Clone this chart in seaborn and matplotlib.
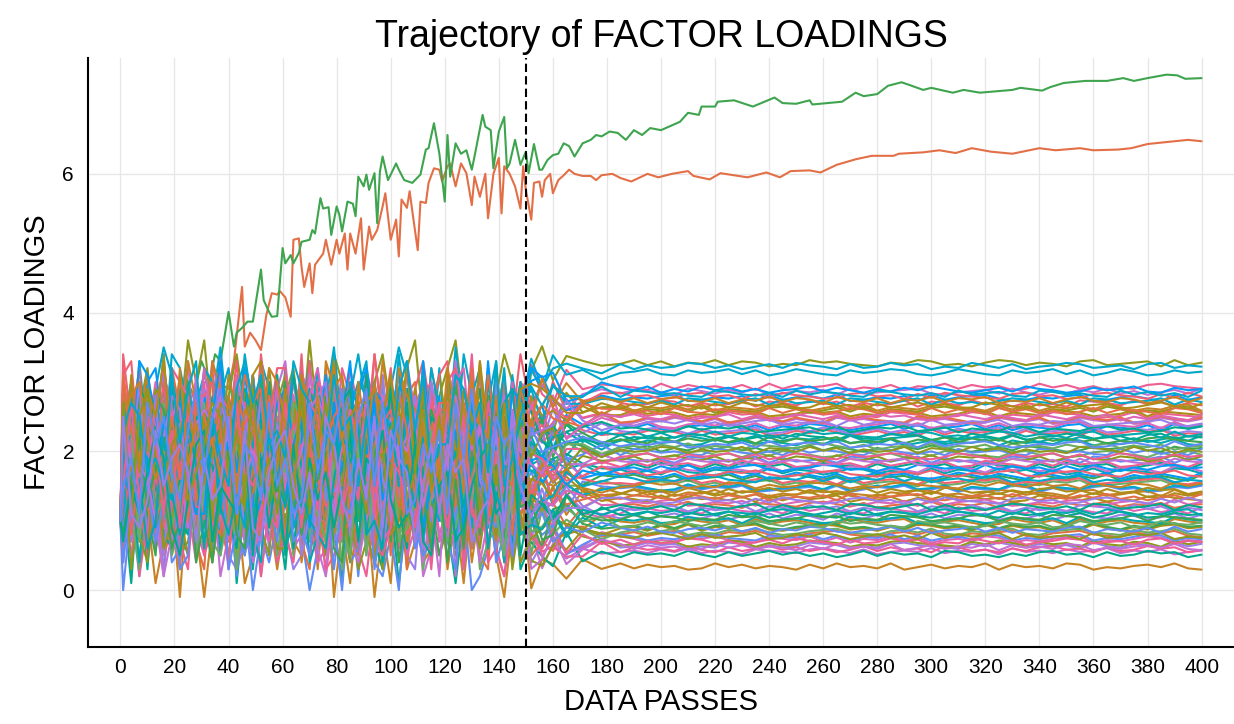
import matplotlib
matplotlib.use("Agg")
import matplotlib.pyplot as plt
import pandas as pd
import seaborn as sns

# ---------------- text ----------------
title = "Trajectory of FACTOR LOADINGS"
x_label = "DATA PASSES"
y_label = "FACTOR LOADINGS"
switch_pass = 150
x_ticks = list(range(0, 401, 20))
y_ticks = [0, 2, 4, 6]
start_value = 1.0

# ---------------- two dominant loadings ----------------
green_passes = [0, 1, 3, 6, 9, 12, 15, 18, 21, 24, 27, 30, 33, 35, 37, 40, 42, 43, 45, 47, 49, 52, 53, 55, 56, 58,
                60, 61, 63, 64, 66, 67, 70, 71, 72, 74, 75, 77, 78, 80, 81, 82, 84, 86, 87, 88, 90, 91, 92, 94, 95,
                96, 97, 99, 100, 102, 103, 105, 108, 111, 113, 114, 116, 118, 120, 121, 122, 124, 126, 128, 130,
                131, 134, 135, 137, 138, 140, 142, 143, 144, 146, 148, 150, 151, 153, 155, 156, 158, 160, 162, 164,
                166, 168, 171, 174, 176, 178, 181, 184, 187, 190, 193, 196, 200, 207, 210, 214, 215, 220, 221, 227,
                234, 242, 245, 250, 255, 256, 267, 272, 275, 280, 284, 289, 292, 297, 300, 308, 312, 318, 330, 333,
                341, 344, 349, 357, 365, 371, 375, 380, 387, 391, 394, 400]
green_values = [1.0, 2.2, 1.8, 2.5, 2.1, 2.7, 2.3, 2.9, 2.6, 3.1, 2.8, 3.3, 3.0, 3.4, 3.3, 4.01, 3.51, 3.71, 3.78,
                3.87, 3.87, 4.62, 4.18, 4.01, 3.94, 3.95, 4.93, 4.71, 4.83, 4.71, 4.86, 5.02, 5.05, 5.19, 5.14,
                5.65, 5.5, 5.52, 5.12, 5.53, 5.41, 5.17, 5.6, 5.57, 5.39, 5.96, 5.82, 5.99, 5.77, 6.01, 5.29, 6.03,
                6.25, 5.91, 5.99, 6.15, 6.06, 5.91, 5.87, 5.99, 6.35, 6.37, 6.73, 6.29, 5.6, 6.56, 5.96, 6.44, 6.29,
                6.34, 6.06, 6.25, 6.85, 6.68, 6.63, 6.08, 6.61, 6.82, 6.08, 6.15, 6.49, 6.13, 6.32, 6.01, 6.43,
                6.06, 6.06, 6.2, 6.27, 6.29, 6.44, 6.4, 6.25, 6.44, 6.49, 6.56, 6.54, 6.61, 6.59, 6.49, 6.63, 6.56,
                6.66, 6.63, 6.75, 6.88, 6.85, 6.97, 6.97, 7.04, 7.06, 6.97, 7.10, 7.02, 7.01, 7.06, 7.0, 7.04, 7.17,
                7.12, 7.15, 7.27, 7.32, 7.28, 7.21, 7.24, 7.17, 7.21, 7.17, 7.21, 7.24, 7.20, 7.25, 7.31, 7.34, 7.34,
                7.38, 7.34, 7.38, 7.43, 7.42, 7.37, 7.38]

orange_passes = [0, 1, 4, 8, 12, 16, 20, 24, 28, 32, 36, 40, 42, 45, 46, 48, 50, 52, 54, 56, 58, 59, 61, 63, 64, 66,
                 67, 68, 70, 71, 72, 75, 76, 78, 80, 81, 83, 84, 85, 87, 89, 90, 92, 93, 95, 97, 98, 100, 102, 103,
                 104, 106, 107, 108, 110, 111, 113, 114, 116, 118, 119, 121, 122, 124, 126, 128, 130, 131, 133, 135,
                 136, 138, 140, 141, 142, 144, 146, 148, 149, 150, 152, 153, 155, 156, 157, 159, 160, 162, 164, 166,
                 168, 171, 174, 176, 178, 182, 185, 189, 195, 199, 204, 210, 212, 218, 222, 227, 232, 239, 244, 248,
                 255, 259, 265, 272, 278, 286, 288, 297, 303, 309, 315, 322, 330, 340, 346, 355, 360, 369, 374, 380,
                 385, 395, 400]
orange_values = [1.0, 1.6, 2.2, 1.7, 2.4, 2.0, 2.6, 2.3, 2.8, 2.5, 3.0, 2.9, 3.3, 4.37, 3.51, 3.71, 3.6, 3.46, 3.97,
                 4.28, 4.26, 4.31, 4.22, 3.94, 5.05, 5.07, 4.66, 4.37, 4.71, 4.28, 4.69, 4.85, 5.05, 4.69, 5.05,
                 4.85, 5.14, 4.62, 5.14, 4.85, 5.36, 4.62, 5.24, 5.05, 5.19, 5.53, 5.72, 5.05, 5.34, 4.81, 5.63,
                 5.51, 5.75, 5.46, 4.9, 5.6, 5.58, 5.87, 6.08, 6.06, 5.89, 6.11, 6.15, 5.82, 6.15, 6.01, 5.55, 5.96,
                 5.67, 6.0, 5.36, 6.0, 6.23, 5.43, 6.11, 6.0, 5.82, 5.5, 6.11, 5.77, 5.34, 5.87, 5.89, 5.67, 5.91,
                 6.0, 5.72, 5.91, 5.98, 6.06, 6.0, 5.97, 5.97, 5.91, 5.98, 6.0, 5.94, 5.89, 6.0, 5.95, 6.0, 6.04,
                 5.97, 5.92, 6.01, 5.98, 5.95, 6.02, 5.95, 6.04, 6.05, 6.02, 6.13, 6.21, 6.26, 6.26, 6.29, 6.31,
                 6.34, 6.30, 6.37, 6.32, 6.29, 6.37, 6.34, 6.37, 6.34, 6.35, 6.37, 6.43, 6.45, 6.49, 6.47]

# ---------------- the bundle of remaining loadings ----------------
# noisy phase at passes 1,4,...,148 ; settling at 152..178 ; settled at 185,190,...,400
bundle_pre_passes = list(range(1, 150, 3))
bundle_settle_passes = [152, 156, 160, 165, 171, 178]
bundle_post_passes = list(range(185, 401, 5))

# centre of each loading during the noisy phase, and its settled level afterwards
bundle_pre_level = [1.1, 1.6, 2.0, 2.5, 0.8, 1.0, 2.7, 2.5, 1.2, 0.9, 2.1, 1.3, 1.7, 2.1, 1.2, 1.8, 2.2, 1.4,
                    1.7, 2.3, 1.3, 1.9, 2.2, 2.6, 1.5, 1.8, 2.4, 1.4, 2.0, 2.3, 1.6, 1.9, 2.4, 1.5, 2.1, 1.1,
                    1.7, 2.0, 1.2, 1.6, 2.2, 1.3, 1.8, 2.1, 1.2, 1.7, 2.3, 1.4, 1.9, 2.2, 1.3, 1.8, 2.4, 1.5,
                    2.0, 2.3, 1.4, 1.9, 2.5, 1.6, 2.0, 2.4, 1.5, 2.1, 1.1, 1.7, 2.0, 1.2, 1.6, 2.2, 1.3, 1.8,
                    2.1, 1.2, 1.7, 2.3, 1.4, 1.8, 2.2, 1.3, 1.9, 2.4, 1.5, 1.8, 2.3, 1.4, 2.0, 2.4, 1.6, 2.0]
bundle_post_level = [0.56, 1.37, 2.18, 2.93, 0.34, 0.52, 3.27, 3.23, 0.64, 1.46, 2.27, 0.73, 1.54, 2.35, 0.81,
                     1.62, 2.44, 0.90, 1.71, 2.52, 0.98, 1.79, 2.60, 3.14, 1.06, 1.88, 2.69, 1.15, 1.96, 2.77,
                     1.23, 2.04, 2.86, 1.32, 2.13, 0.59, 1.40, 2.21, 0.67, 1.48, 2.30, 0.76, 1.57, 2.38, 0.84,
                     1.65, 2.46, 0.92, 1.74, 2.55, 1.01, 1.82, 2.63, 1.09, 1.90, 2.72, 1.18, 1.99, 2.80, 1.26,
                     2.07, 2.89, 1.34, 2.16, 0.62, 1.43, 2.24, 0.70, 1.51, 2.32, 0.78, 1.60, 2.41, 0.87, 1.68,
                     2.49, 0.95, 1.76, 2.58, 1.04, 1.85, 2.66, 1.12, 1.93, 2.74, 1.20, 2.02, 2.83, 1.29, 2.10]

# typed wiggles, one digit per point (0..9, 4.5 = centre)
pre_step = 0.2
settle_step = 0.07
post_step = 0.018
bundle_pre_digits = [
    "7391508264 8271936055 2849173062 4819357026 1849372051",
    "2068415973 5930472816 9157302648 3605918247 6283049157",
    "5402867319 1748259036 4093716582 8526041397 0371864925",
    "8175390642 6392085174 7210649385 1947362850 5829103746",
    "3926147085 0584713962 6438290517 7051824639 2617493058",
    "6081953427 4729061835 1862574093 9316058247 4058362791",
    "1547280396 9305846172 5729308614 2684179305 7943215860",
    "4730619852 2168395740 8350147269 5072946318 1296804375",
    "9263705148 7541029386 3017862594 6439510782 3805279614",
    "0618492357 3897160425 6940385071 8214073596 5460138927",
    "5384021679 1265937804 4701598263 3958726140 9174602358",
    "2956138740 6048251397 9563014728 1705384962 4381975026",
    "7120594863 8439607512 2836750194 5627013849 6052841739",
    "3849276015 5712384069 7184629305 9046258173 2719530846",
    "6475813092 0983562741 3520978416 4381907625 8647109253",
    "1093625478 7356018294 8067341529 2739465801 5028397164",
    "8562047139 2174930856 5498120673 7610582934 3946715082",
    "4217958306 9620473185 1375896240 6085341927 7503628419",
    "9738160524 3451729068 6209437815 1852706349 0471985263",
    "2604739851 8093615427 4851603972 9367120485 6129054738",
    "5931482067 1628047359 7904352618 3579268014 8360471592",
    "0475216398 6847392015 2136895740 4901763825 1758392046",
    "7369045182 4015286937 9682417053 6248035179 5034816927",
    "3182697405 7593041862 0748159326 8126973504 2946058173",
    "6847032951 2361879504 5017624839 1573498062 7281540396",
    "1506384927 9832605174 3465091287 7390815426 4615973082",
    "8923571046 5174928360 6839205714 0462137958 9073628415",
    "4051869372 0695317248 1287463905 5843602791 3592714068",
    "9640218735 3728054916 8514739620 2709485163 6138027954",
    "2318947560 7406192835 4093286517 9681534027 0765391824",
    "5796302184 1839475062 7652018439 3027946815 8409263571",
    "0462759813 6275830419 2941637058 8536107294 1827406953",
    "7235086491 4960328157 9308541726 1482795360 5943817026",
    "3981427056 8052719643 0726953814 6349028175 2061579438",
    "6157093824 2617845390 5483162097 7915360482 4728035169",
    "1804635297 9348276051 3169705842 0538247916 8395712046",
    "8426917530 5093164827 6875429013 4176853209 1504689372",
    "4670258913 1785903462 2031784695 9862510437 6247938051",
    "9057843126 6429057318 8597316240 2605489731 3819265704",
    "2743160598 3016482975 4260859137 7341926058 9062417385",
    "5318792604 8672539140 1943206785 5093617482 0736952841",
    "0592437861 4137860295 7628594301 8257043916 5481360279",
    "7836015249 0854291736 3405172968 1629805374 2193748560",
    "3165928470 7291546083 9814630527 6904372185 7620581394",
    "6409571382 2548073961 5172948036 3716259048 4957023168",
    "1984263057 9760312845 0539781624 8482605731 1308497526",
    "8250739614 5926841073 6281093457 0135478296 6749135802",
    "4593086127 1385207946 2746315809 5871923640 3025864179",
    "9126457830 6704938512 8053627194 4298051673 7581206934",
    "2871304965 3049625718 4697851320 9563148207 0836759241",
    "5607821349 8513762094 1380246975 2604937518 4192835067",
    "0349678512 4286193750 7915380426 6847215093 8573046129",
    "7058143296 0971548362 3526097841 1395862740 5260918473",
    "3794560218 7632081459 9058724613 8726309154 1647293805",
    "6213985740 2450379816 5847136092 4051678923 9308572461",
    "1562739084 9817246503 0274915368 7832450196 2735084916",
    "8935206471 5368910427 6703581249 0569123847 6481937025",
    "4087613925 1094875362 2461038795 5187964302 3056249718",
    "9481072536 6725031948 8190764253 3948215670 7812506349",
    "2350948617 3871496205 4539217086 9201586734 0697351842",
    "5726381094 8036257149 1872653940 6453092718 4168729503",
    "0198527463 4592718036 7306482591 2765841930 8524093176",
    "7643190825 0217384695 3648905127 1087356249 5370862419",
    "3015874692 7468053921 9015387264 8319620475 2941587036",
    "6852403179 2703691584 5467209831 4926738150 9085143267",
    "1279658340 9185420736 0821954673 7540162983 6753928140",
    "8436021957 5621897403 6159738042 0681497325 1427605893",
    "4961735208 1350962487 2798401356 5213849607 3809274516",
    "9504286173 6984175320 8346027915 3872506194 7561830942",
    "2187549036 3527408619 4950163782 9438170265 0236495718",
    "5620913748 8063549271 1683275409 2059634817 4973152680",
    "0873462591 4718206935 7029546183 6597382041 8340671259",
    "7391805624 0245973816 3574891260 1720458396 5618209347",
    "3746258019 7890314652 9231760548 8046973125 2085943716",
    "6058137492 2361789054 5806423197 4389501672 9472016385",
    "1402695873 9576043128 0417958362 7153296840 6893527104",
    "8917342560 5103862947 6954317208 0678124593 1254873069",
    "4265087931 1839470265 2680539471 5924716038 3709168452",
    "9538416207 6420597813 8193046725 3461850927 7046395218",
    "2694751380 3058216749 4725681093 9837042516 0618257394",
    "5143069827 8796135402 1358970624 2390658147 4962731085",
    "0817593462 4265708931 7081249356 6758391420 8253940617",
    "7350284196 0931472685 3642105879 1209563874 5736804291",
    "3928617054 7682943510 9509836142 8175420369 2481096753",
    "6784130925 2417065398 5263719408 4831976502 9608547132",
    "1536972048 9154380726 0837462591 7694238105 6125783490",
    "8079425613 5873619240 6190584273 0546813927 1397052648",
    "4651208379 1520796834 2976138450 5062794813 3874619025",
    "9213846750 6349281057 8425097316 3918650472 7560238194",
    "2408573169 3796054182 4018365927 9284701536 0849317562",
]
bundle_settle_digits = [
    "816354", "294746", "507153", "931845", "065264", "742935", "381654", "604543", "159346", "827065",
    "463854", "915236", "278445", "590753", "031664", "758135", "324956", "682043", "147564", "803645",
    "491236", "956754", "230845", "518453", "072965", "764534", "309356", "651843", "126754", "894235",
    "435046", "980653", "263145", "527964", "018453", "745336", "376054", "692743", "104865", "861534",
    "429346", "957135", "280654", "513246", "094753", "736845", "351436", "608954", "172635", "845364",
    "486153", "923045", "259763", "574636", "031254", "708445", "365953", "619346", "182035", "854764",
    "410553", "978236", "246345", "591864", "027146", "763953", "304535", "637264", "195843", "820456",
    "468765", "901634", "234953", "582546", "056346", "719035", "347856", "675143", "163265", "801954",
    "427446", "986335", "215054", "540663", "093845", "752734", "389153", "626446", "170335", "834565",
]
post_wiggles = [
    "453647354265 436753624547 354627453645 735462453764",
    "647253746352 457364253647 532463754236 457326453742",
    "365427536472 354627345673 245637425364 735246374526",
    "542736453627 364572436254 736452374635 243675436257",
    "736452374635 426374537246 354726453762 435647325463",
    "264537426357 463524736452 763425367452 634756243576",
    "473625473652 437564325476 342576354267 345627354672",
    "625347635246 375426347562 437536245763 452673546234",
    "347562437625 347652436754 326475364527 436527463524",
    "564237465723 456372465734 625437625436 745236574362",
    "436752634572 364752463527 364572634527 346572436572",
    "752436574326 547362547362 453762435672 435762436574",
    "325647352467 354627356427 346572436572 345673245637",
    "647325647362 547632457362 457362543672 543627354762",
    "463572436574 235674325647 325467325674 326457324657",
    "574362457362 475362475632 475364275364 725364275364",
    "236475362475 364275643275 642375462375 462375463275",
    "452637254673 245763425376 452736452637 425367452736",
    "635274365427 365247635427 365274635247 365427635274",
    "374652437562 347562437652 347625437652 347265437625",
    "546237546273 564237546723 564237546273 564327546237",
    "263745263754 623745263574 623754263745 623574263754",
    "725463725436 752463725436 754263725463 752436725463",
    "457326457362 475326457632 475326457362 475236457326",
    "362574362547 365274362547 365724362574 365247362574",
    "643527643572 634527643572 634257643527 634572643527",
    "534762534726 537462534726 537462534276 537462534726",
    "276453276435 274653276435 274563276453 274635276453",
    "745236745263 754236745263 754326745236 754263745236",
    "354672354627 356472354627 356742354672 356427354672",
]

# ---------------- styles ----------------
julia_palette = ["#009AF9", "#E36F47", "#3EA44E", "#C371D2", "#AC8D18", "#00A9AD", "#ED5E93", "#C68225",
                 "#00A98D", "#8E971E", "#00A8CC", "#9B7FE9", "#618CF6", "#F06073", "#DD65B7", "#6BAD65"]
top_colors = {"orange": "#E36F47", "green": "#3EA44E"}


def decode(digits, level, step):
    return [level + (int(c) - 4.5) * step for c in digits.replace(" ", "")]


# ---------------- long-form table ----------------
records = []
for p, v in zip(orange_passes, orange_values):
    records.append(("orange", p, v))
for p, v in zip(green_passes, green_values):
    records.append(("green", p, v))
names = []
palette = dict(top_colors)
for i in range(len(bundle_post_level)):
    name = f"b{i:02d}"
    names.append(name)
    palette[name] = julia_palette[(i + 3) % len(julia_palette)]
    records.append((name, 0, start_value))
    segments = [
        (bundle_pre_passes, decode(bundle_pre_digits[i], bundle_pre_level[i], pre_step)),
        (bundle_settle_passes, decode(bundle_settle_digits[i], bundle_post_level[i], settle_step)),
        (bundle_post_passes, decode(post_wiggles[i % len(post_wiggles)], bundle_post_level[i], post_step)),
    ]
    for passes, values in segments:
        for p, v in zip(passes, values):
            records.append((name, p, v))
df = pd.DataFrame(records, columns=["series", "pass", "loading"])
hue_order = ["orange", "green"] + names

# ---------------- plot ----------------
sns.set_theme(style="white")
plt.rcParams["font.family"] = ["Liberation Sans", "DejaVu Sans"]

fig = plt.figure(figsize=(12.34, 7.24), dpi=100)
ax = fig.add_axes([88 / 1234, 1 - 647 / 724, (1234 - 88) / 1234, (647 - 58) / 724])

sns.lineplot(data=df, x="pass", y="loading", hue="series", hue_order=hue_order,
             palette=palette, estimator=None, sort=False, legend=False,
             linewidth=1.5, ax=ax)
ax.axvline(switch_pass, color="black", linestyle=(0, (4, 2)), linewidth=1.5, zorder=5)

ax.set_xlim(-12, 412)
ax.set_ylim(-0.82, 7.67)
ax.set_xticks(x_ticks)
ax.set_yticks(y_ticks)
ax.grid(True, color="#e6e6e6", linewidth=0.9)
ax.set_axisbelow(True)
for side in ["top", "right"]:
    ax.spines[side].set_visible(False)
for side in ["left", "bottom"]:
    ax.spines[side].set_color("black")
    ax.spines[side].set_linewidth(1.5)
ax.tick_params(axis="both", direction="in", length=6, width=1.2, colors="black", labelsize=15)
ax.tick_params(axis="x", pad=8)
ax.tick_params(axis="y", pad=10)
ax.set_xlabel(x_label, fontsize=21, labelpad=8, color="black")
ax.set_ylabel(y_label, fontsize=21, labelpad=8, color="black")
ax.set_title(title, fontsize=27, pad=8, color="black")

fig.savefig("out.png", dpi=100, facecolor="white")
